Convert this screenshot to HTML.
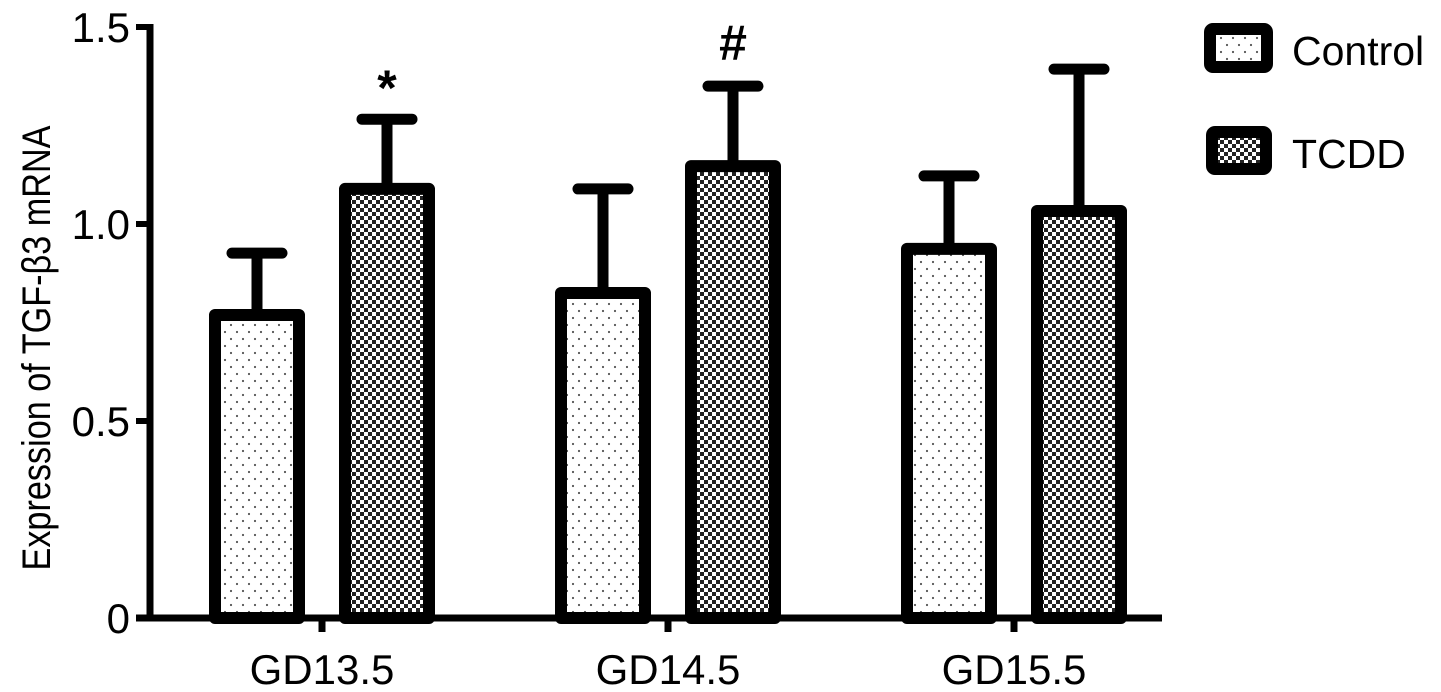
<!DOCTYPE html>
<html><head><meta charset="utf-8"><style>
body{margin:0;background:#fff;}
svg{display:block;font-family:"Liberation Sans",Arial,sans-serif;}
</style></head><body>
<svg id="chart" width="1441" height="692" viewBox="0 0 1441 692">
<defs>
<pattern id="dots" width="12" height="14" patternUnits="userSpaceOnUse"><rect width="12" height="14" fill="#fff"/><circle cx="3" cy="3" r="1.1" fill="#555"/><circle cx="9" cy="10" r="1.1" fill="#555"/></pattern>
<pattern id="check" width="8" height="8" patternUnits="userSpaceOnUse"><rect width="8" height="8" fill="#fff"/><rect width="4" height="4" fill="#222"/><rect x="4" y="4" width="4" height="4" fill="#222"/></pattern>
</defs>
<g id="plot"></g>
<g>
<rect x="1210" y="29" width="57" height="38" rx="3" fill="url(#dots)" stroke="#000" stroke-width="12"/>
<text x="1292" y="65" font-size="41">Control</text>
<rect x="1212" y="132" width="54" height="37" rx="3" fill="url(#check)" stroke="#000" stroke-width="12"/>
<text x="1292" y="168" font-size="41">TCDD</text>
</g>
<text transform="translate(50,348) rotate(-90)" text-anchor="middle" font-size="40" textLength="445" lengthAdjust="spacingAndGlyphs">Expression of TGF-β3 mRNA</text>
</svg>
<script>
const categories=["GD13.5","GD14.5","GD15.5"];
const controlValues=[0.769,0.825,0.937];
const controlErrors=[0.926,1.089,1.122];
const tcddValues=[1.089,1.147,1.033];
const tcddErrors=[1.266,1.35,1.393];
const significance=["*","#",""];
const yTicks=[0,0.5,1.0,1.5];
const yTickLabels=["0","0.5","1.0","1.5"];

const NS="http://www.w3.org/2000/svg";
const g=document.getElementById('plot');
const y0=618, pxPerUnit=394, x0=150, groupStart=322, groupStep=346;
function y(v){return y0-v*pxPerUnit;}
function xc(i){return groupStart+i*groupStep;}
function mk(tag,attrs){const e=document.createElementNS(NS,tag);for(const k in attrs)e.setAttribute(k,attrs[k]);g.appendChild(e);return e;}

const barW=84, off=65;
function drawBar(cx,v,err,fill,name){
  const l=mk('line',{x1:cx,x2:cx,y1:y(v),y2:y(err),stroke:'#000','stroke-width':11});
  
  
  const c=mk('line',{x1:cx-25,x2:cx+25,y1:y(err),y2:y(err),stroke:'#000','stroke-width':11,'stroke-linecap':'round'});
  
  
  const r=mk('rect',{x:cx-barW/2,y:y(v),width:barW,height:y0-y(v),fill:fill,stroke:'#000','stroke-width':12,'stroke-linejoin':'round'});
  
  
}
categories.forEach((cat,i)=>{
  drawBar(xc(i)-off,controlValues[i],controlErrors[i],'url(#dots)','bar-control-'+cat.toLowerCase().replace('.','-'));
  drawBar(xc(i)+off,tcddValues[i],tcddErrors[i],'url(#check)','bar-tcdd-'+cat.toLowerCase().replace('.','-'));
  if(significance[i]){
    const s=mk('text',{x:xc(i)+off,y:y(tcddErrors[i])-(significance[i]=='*'?14:26),'text-anchor':'middle','font-size':50,'font-weight':'bold'});
    s.textContent=significance[i];
    
    
  }
  const t=mk('line',{x1:xc(i),x2:xc(i),y1:y0,y2:y0+14,stroke:'#000','stroke-width':7});
  
  
  const lb=mk('text',{x:xc(i),y:y0+66,'text-anchor':'middle','font-size':42});
  lb.textContent=cat;
  
  
});
const ya=mk('line',{x1:x0,x2:x0,y1:y(1.5)-3,y2:y0+3,stroke:'#000','stroke-width':7});


const xa=mk('line',{x1:x0-14,x2:1162,y1:y0,y2:y0,stroke:'#000','stroke-width':7});


yTicks.forEach((v,i)=>{
  const t=mk('line',{x1:x0-14,x2:x0,y1:y(v),y2:y(v),stroke:'#000','stroke-width':6});
  
  
  const lb=mk('text',{x:x0-20,y:y(v)+15,'text-anchor':'end','font-size':42});
  lb.textContent=yTickLabels[i];
  
  
});
</script>
</body></html>
